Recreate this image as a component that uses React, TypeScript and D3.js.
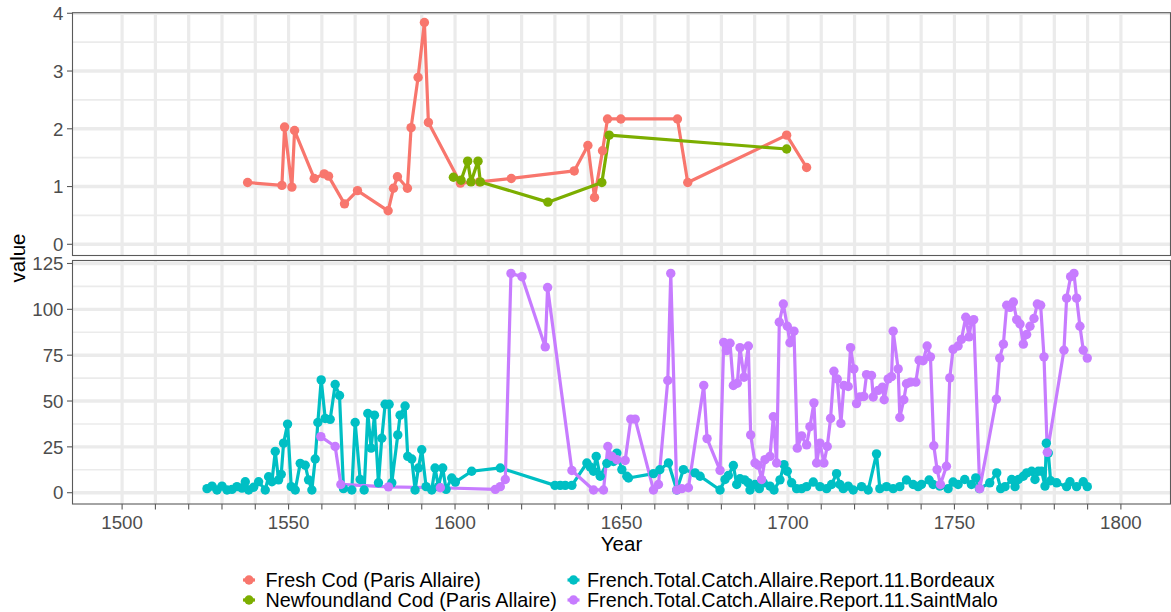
import React from "react";
import * as d3 from "d3";

// ---------- data ----------
const seriesNames = [
  "Fresh Cod (Paris Allaire)",
  "Newfoundland Cod (Paris Allaire)",
  "French.Total.Catch.Allaire.Report.11.Bordeaux",
  "French.Total.Catch.Allaire.Report.11.SaintMalo",
];
const seriesColors = ["#F8766D", "#7CAE00", "#00BFC4", "#C77CFF"];

const freshYears = [1537.7, 1548.0, 1548.8, 1551.0, 1551.8, 1557.7, 1560.7, 1562.0, 1566.8, 1570.7, 1579.9, 1581.5, 1582.7, 1585.7, 1586.8, 1588.9, 1590.8, 1592.0, 1601.6, 1607.3, 1616.9, 1635.8, 1639.9, 1641.9, 1644.3, 1645.8, 1649.8, 1666.8, 1669.9, 1699.6, 1705.6];
const freshValues = [1.07, 1.02, 2.03, 0.99, 1.97, 1.14, 1.22, 1.18, 0.70, 0.93, 0.58, 0.97, 1.17, 0.97, 2.02, 2.89, 3.84, 2.11, 1.06, 1.08, 1.14, 1.27, 1.71, 0.81, 1.62, 2.17, 2.17, 2.17, 1.07, 1.89, 1.33];

const newfYears = [1599.5, 1601.8, 1603.8, 1604.8, 1606.9, 1607.6, 1627.9, 1644.1, 1646.3, 1699.6];
const newfValues = [1.16, 1.11, 1.44, 1.08, 1.44, 1.08, 0.73, 1.07, 1.89, 1.65];

const bordeauxYears = [1525.5, 1527, 1528.5, 1530, 1531.5, 1533, 1534.5, 1536, 1537, 1538, 1539.5, 1541, 1543, 1544, 1545, 1546, 1547, 1547.8, 1548.5, 1549.7, 1550.8, 1552, 1553.5, 1555, 1556, 1557, 1558, 1558.8, 1559.8, 1561, 1562.5, 1564, 1565.3, 1566.5, 1569, 1570, 1571.5, 1572.7, 1573.8, 1574.8, 1575.8, 1577, 1578, 1579, 1580.2, 1581, 1582.8, 1583.5, 1585, 1585.8, 1587, 1588, 1589, 1590, 1591.3, 1593, 1594, 1595, 1596.3, 1597.3, 1599, 1600.1, 1605, 1613.6, 1630, 1631.6, 1633.1, 1635.1, 1639.6, 1640.6, 1641.6, 1642.4, 1643.6, 1645.6, 1647.6, 1648.6, 1650.1, 1651.6, 1652.1, 1659.6, 1661.5, 1664.1, 1666.6, 1668.6, 1672.1, 1673.6, 1679.6, 1681.1, 1682.1, 1683.6, 1684.6, 1685.6, 1687, 1688, 1688.6, 1690.1, 1691.4, 1692.6, 1694.6, 1695.8, 1697.6, 1698.8, 1699.8, 1701.1, 1702.6, 1704.1, 1705.6, 1707.6, 1709.6, 1711.6, 1713.1, 1714.6, 1715.6, 1716.6, 1718.1, 1719.6, 1722.1, 1724.1, 1726.6, 1727.6, 1729.6, 1731.6, 1733.6, 1735.6, 1737.6, 1739.1, 1740.1, 1742.4, 1743.6, 1745.6, 1748.1, 1749.6, 1751.1, 1753.1, 1755.1, 1756.4, 1757.5, 1760.6, 1762.7, 1763.9, 1765.2, 1767.2, 1768.2, 1769.2, 1770.7, 1771.7, 1773.2, 1774.2, 1775.2, 1776.2, 1777.2, 1777.6, 1778.2, 1778.9, 1780.7, 1783.7, 1784.7, 1786.7, 1788.7, 1789.9];
const bordeauxValues = [2.2, 3.6, 1.5, 3.6, 1.5, 1.8, 3.3, 2.5, 6, 1.5, 3, 6, 1.5, 8.7, 6, 22.5, 7, 10, 27, 37.4, 3.3, 1.5, 16, 15, 7, 1.5, 18.4, 38.3, 61.5, 40.5, 40, 59, 53, 2.2, 1.5, 38.3, 7.2, 1.5, 43.2, 24.3, 42.3, 5.4, 29.7, 48.2, 48.2, 5.4, 31.5, 42.3, 47.3, 19.8, 18.4, 1.5, 13.5, 23.4, 3.3, 1.5, 13.5, 3.3, 13.5, 1.8, 8, 5.8, 11.7, 13.5, 4, 4, 4, 4, 16.2, 14, 11.7, 19.8, 9, 16, 17, 21.6, 12.6, 9, 8, 10.4, 12.5, 16.2, 1.5, 12.6, 10.8, 9, 1.5, 7.2, 9.4, 14.8, 4.5, 7.6, 7, 5.5, 1.5, 4.5, 2.2, 5.4, 3.6, 1.5, 7, 15.3, 11.7, 5.4, 2.2, 2.2, 3.3, 5.8, 3.3, 2.2, 4.5, 10.4, 4.5, 2.2, 3.6, 1.5, 3.3, 1.5, 21.2, 2.2, 3.3, 2.2, 3.3, 6.9, 4.5, 3.3, 4.5, 6.9, 4.5, 3.6, 2.2, 5.8, 4.5, 7.2, 4.5, 8.1, 2.2, 5.4, 10.8, 2.2, 3.3, 7.2, 3.3, 7.2, 9, 10.8, 11.7, 7.2, 11.7, 11.7, 3.6, 27, 21.6, 6.5, 5.4, 3.3, 6, 3.3, 6, 3.3];

const saintMaloYears = [1559.7, 1564, 1565.7, 1580, 1595.6, 1612.1, 1613.6, 1615.1, 1616.8, 1620.1, 1627.1, 1627.8, 1635.1, 1641.6, 1644.6, 1645.9, 1647.1, 1648.6, 1651.1, 1652.8, 1654.1, 1659.6, 1661.1, 1663.9, 1664.8, 1666.6, 1668.1, 1670.1, 1674.7, 1675.7, 1679.6, 1680.7, 1681.5, 1682.6, 1683.6, 1684.8, 1685.6, 1686.8, 1688.1, 1688.8, 1690.1, 1691.1, 1692.1, 1693.1, 1694.6, 1695.6, 1696.6, 1697.4, 1698.6, 1699.8, 1700.6, 1701.8, 1702.8, 1704.1, 1705.6, 1706.6, 1707.8, 1708.6, 1709.6, 1710.8, 1711.8, 1712.8, 1713.8, 1714.8, 1715.9, 1716.8, 1718.1, 1718.8, 1719.8, 1720.6, 1721.6, 1722.8, 1723.6, 1725.1, 1725.6, 1727.1, 1728.4, 1728.9, 1730.1, 1731.1, 1731.6, 1733.1, 1733.6, 1734.8, 1735.6, 1736.8, 1738.4, 1739.4, 1740.6, 1741.8, 1742.8, 1743.8, 1744.8, 1745.8, 1747.6, 1748.6, 1749.6, 1751.1, 1752.1, 1753.4, 1754.4, 1755.1, 1755.8, 1757.6, 1762.6, 1763.6, 1764.7, 1765.7, 1766.7, 1767.7, 1768.7, 1769.7, 1770.7, 1771.7, 1772.7, 1773.9, 1774.9, 1775.9, 1776.9, 1777.9, 1782.9, 1783.7, 1784.9, 1785.9, 1786.7, 1787.7, 1788.7, 1789.9];
const saintMaloValues = [30.6, 25.2, 4.5, 3.2, 2.7, 1.8, 3.3, 7.2, 119.6, 117.8, 79.5, 111.9, 12.1, 1.5, 1.5, 25.2, 19.8, 18, 17.6, 40.1, 40.1, 1.5, 4.5, 61.2, 119.6, 1.5, 2.2, 2.7, 58.5, 29.5, 12.2, 82, 77.5, 81.5, 58.5, 59.7, 79.1, 63, 80, 31.5, 16.2, 15, 7.2, 18, 19.8, 41.4, 16.2, 93, 102.9, 90.8, 81.8, 88.1, 24.3, 31, 26.1, 36, 49, 16.2, 27, 16.2, 25.2, 40.5, 66.2, 62, 37.8, 58.5, 57.9, 79.1, 67.5, 48.6, 52.2, 52.5, 64.4, 63.9, 52.2, 55.8, 57.6, 50.7, 62.1, 63.3, 88.1, 67.5, 41, 50.7, 59.4, 60.3, 60.3, 72.3, 72, 80, 74.1, 25.6, 12.6, 4.5, 14.4, 62.6, 78.2, 80, 83.6, 95.7, 85, 93.5, 94.4, 2.2, 51, 73.4, 81, 102.2, 101.1, 104, 94.4, 92, 81, 86.3, 90.8, 95, 102.9, 102.2, 74.1, 22, 77.7, 106.1, 117.8, 119.6, 106.1, 90.8, 77.7, 73.4];

const xTickValues = d3.range(1500, 1801, 10);
const xLabelValues = [1500, 1550, 1600, 1650, 1700, 1750, 1800];
const topTicks = [0, 1, 2, 3, 4];
const topMinor = [0.5, 1.5, 2.5, 3.5];
const bottomTicks = [0, 25, 50, 75, 100, 125];
const bottomMinor = [12.5, 37.5, 62.5, 87.5, 112.5];

// ---------- layout ----------
const W = 1171;
const H = 612;
const left = 72.5;
const right = 1170.5;
const topPanel = { y0: 12.7, y1: 255.5 };
const botPanel = { y0: 260.5, y1: 504 };
const FONT = "'Liberation Sans', Arial, Helvetica, sans-serif";

type Pt = { x: number; y: number };
const zip = (xs: number[], ys: number[]): Pt[] => xs.map((x, i) => ({ x, y: ys[i] }));

export default function App() {
  const x = d3.scaleLinear().domain([1485.1, 1814.9]).range([left, right]);
  const yTop = d3.scaleLinear().domain([-0.194, 4.01]).range([topPanel.y1, topPanel.y0]);
  const yBot = d3.scaleLinear().domain([-6.16, 126.63]).range([botPanel.y1, botPanel.y0]);

  const topSeries = [
    { data: zip(freshYears, freshValues), color: seriesColors[0] },
    { data: zip(newfYears, newfValues), color: seriesColors[1] },
  ];
  const botSeries = [
    { data: zip(bordeauxYears, bordeauxValues), color: seriesColors[2] },
    { data: zip(saintMaloYears, saintMaloValues), color: seriesColors[3] },
  ];

  const gridColor = "#EBEBEB";
  const borderColor = "#5a5a5a";
  const tickTextColor = "#4D4D4D";
  const R = 4.7;

  const panel = (
    key: string,
    p: { y0: number; y1: number },
    y: d3.ScaleLinear<number, number>,
    ticks: number[],
    minor: number[],
    series: { data: Pt[]; color: string }[]
  ) => {
    const line = d3
      .line<Pt>()
      .x((d) => x(d.x))
      .y((d) => y(d.y));
    return (
      <g key={key}>
        <defs>
          <clipPath id={`clip-${key}`}>
            <rect x={left} y={p.y0} width={right - left} height={p.y1 - p.y0} />
          </clipPath>
        </defs>
        <rect x={left} y={p.y0} width={right - left} height={p.y1 - p.y0} fill="#fff" />
        <g clipPath={`url(#clip-${key})`}>
          {minor.map((v) => (
            <line key={`mn${v}`} x1={left} x2={right} y1={y(v)} y2={y(v)} stroke={gridColor} strokeWidth={1.6} />
          ))}
          {ticks.map((v) => (
            <line key={`mj${v}`} x1={left} x2={right} y1={y(v)} y2={y(v)} stroke={gridColor} strokeWidth={3.4} />
          ))}
          {xTickValues.map((v) => (
            <line key={`vx${v}`} x1={x(v)} x2={x(v)} y1={p.y0} y2={p.y1} stroke={gridColor} strokeWidth={3.2} />
          ))}
          {series.map((s, i) => (
            <path key={`l${i}`} d={line(s.data) || ""} fill="none" stroke={s.color} strokeWidth={3.2} strokeLinejoin="round" strokeLinecap="butt" />
          ))}
          {series.map((s, i) => (
            <g key={`p${i}`} fill={s.color}>
              {s.data.map((d, j) => (
                <circle key={j} cx={x(d.x)} cy={y(d.y)} r={R} />
              ))}
            </g>
          ))}
        </g>
        <rect x={left} y={p.y0} width={right - left} height={p.y1 - p.y0} fill="none" stroke={borderColor} strokeWidth={1.1} />
        {ticks.map((v) => (
          <g key={`yt${v}`}>
            <line x1={left - 5.5} x2={left} y1={y(v)} y2={y(v)} stroke={borderColor} strokeWidth={1.1} />
            <text x={left - 9} y={y(v)} dy="0.36em" textAnchor="end" fontSize={18.7} fill={tickTextColor} fontFamily={FONT}>
              {v}
            </text>
          </g>
        ))}
      </g>
    );
  };

  const legendRows = [580, 600];
  const legendCols = [{ key: 249, text: 265.5 }, { key: 573.5, text: 587 }];
  const legendItems = seriesNames.map((name, i) => {
    const col = Math.floor(i / 2);
    const row = i % 2;
    return { name, color: seriesColors[i], kx: legendCols[col].key, tx: legendCols[col].text, y: legendRows[row] };
  });

  return (
    <svg width={W} height={H} style={{ position: "absolute", left: 0, top: 0, background: "#fff" }} fontFamily={FONT}>
      <rect x={0} y={0} width={W} height={H} fill="#fff" />
      {panel("top", topPanel, yTop, topTicks, topMinor, topSeries)}
      {panel("bot", botPanel, yBot, bottomTicks, bottomMinor, botSeries)}
      {xTickValues.map((v) => (
        <line key={`xt${v}`} x1={x(v)} x2={x(v)} y1={botPanel.y1} y2={botPanel.y1 + 5.5} stroke={borderColor} strokeWidth={1.1} />
      ))}
      {xLabelValues.map((v) => (
        <text key={`xl${v}`} x={x(v)} y={528.5} textAnchor="middle" fontSize={18.7} fill={tickTextColor}>
          {v}
        </text>
      ))}
      <text x={(left + right) / 2} y={550.5} textAnchor="middle" fontSize={20.5} fill="#000">
        Year
      </text>
      <text transform={`translate(25, 258) rotate(-90)`} textAnchor="middle" fontSize={20.5} fill="#000">
        value
      </text>
      {legendItems.map((it) => (
        <g key={it.name}>
          <line x1={it.kx - 6} x2={it.kx + 6} y1={it.y} y2={it.y} stroke={it.color} strokeWidth={3.2} />
          <circle cx={it.kx} cy={it.y} r={R} fill={it.color} />
          <text x={it.tx} y={it.y} dy="0.36em" fontSize={19.8} fill="#000">
            {it.name}
          </text>
        </g>
      ))}
    </svg>
  );
}
